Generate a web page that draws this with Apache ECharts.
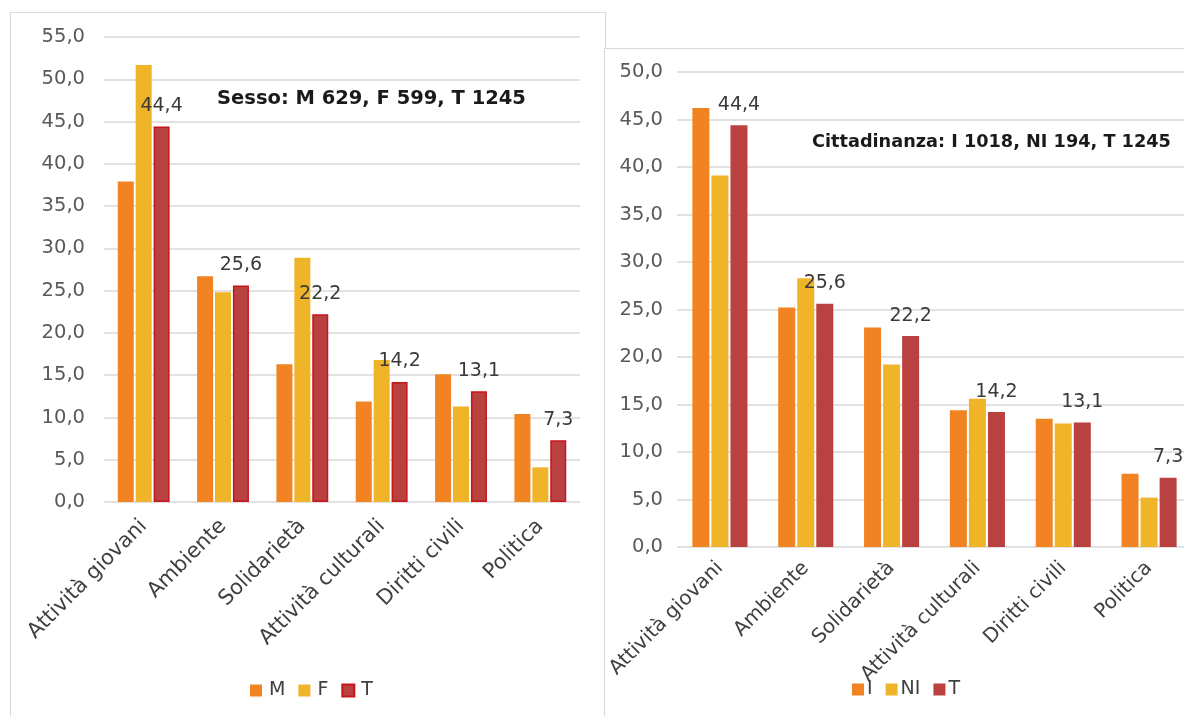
<!DOCTYPE html>
<html><head><meta charset="utf-8">
<script src="https://cdn.jsdelivr.net/npm/echarts@6/dist/echarts.min.js"></script>
<style>
html,body{margin:0;padding:0;width:1184px;height:716px;overflow:hidden;background:#fff;}
#c1{position:absolute;left:10px;top:12px;width:594px;height:720px;border:1px solid #d9d9d9;background:#fff;}
#c2{position:absolute;left:604px;top:48px;width:600px;height:690px;border:1px solid #d9d9d9;background:#fff;}
</style></head>
<body>
<div id="c1"></div>
<div id="c2"></div>
<script>
const categories = ['Attività giovani','Ambiente','Solidarietà','Attività culturali','Diritti civili','Politica'];
// Sesso
const sessoM = [37.9, 26.7, 16.3, 11.9, 15.1, 10.4];
const sessoF = [51.7, 24.8, 28.9, 16.8, 11.3, 4.1];
const sessoT = [44.4, 25.6, 22.2, 14.2, 13.1, 7.3];
// Cittadinanza
const cittI = [46.2, 25.2, 23.1, 14.4, 13.5, 7.7];
const cittNI = [39.1, 28.3, 19.2, 15.6, 13.0, 5.2];
const cittT = [44.4, 25.6, 22.2, 14.2, 13.1, 7.3];
const titleSesso = 'Sesso: M 629, F 599, T 1245';
const titleCitt = 'Cittadinanza: I 1018, NI 194, T 1245';

const FONT = 'DejaVu Sans';
const ORANGE = '#F28322', YELLOW = '#F0B429', RED = '#B94140';
const fmt = v => Number(v).toFixed(1).replace('.', ',');

function build(cfg){
  const mk = (name, data, color, isT) => ({
    name, type:'bar', data,
    barWidth: cfg.barWidth, barGap: cfg.barGap,
    itemStyle: Object.assign({color}, isT && cfg.tBorder ? {borderColor:'#C8141C', borderWidth:1.5} : {}),
    label: isT ? {show:true, position:'top', distance:11, formatter: p => fmt(p.value),
      fontFamily:FONT, fontSize:19, color:'#3a3a3a'} : {show:false},
    animation:false
  });
  return {
    animation:false,
    title:{text:cfg.title, left:cfg.titleLeft, top:cfg.titleTop, padding:0,
      textStyle:{fontFamily:FONT, fontWeight:'bold', fontSize:cfg.titleSize, color:'#1a1a1a'}},
    legend:{left:cfg.legendLeft, top:cfg.legendTop, padding:0, itemWidth:12, itemHeight:12, itemGap:cfg.legendGap,
      icon:'rect', data:cfg.names,
      textStyle:{fontFamily:FONT, fontSize:19, color:'#404040', padding:[0,0,0,cfg.legendPad]}},
    grid:{left:cfg.gridLeft, top:cfg.gridTop, width:cfg.gridWidth, height:cfg.gridHeight,
      containLabel:false, outerBoundsMode:'none'},
    xAxis:{type:'category', data:categories,
      axisLine:{show:false}, axisTick:{show:false},
      axisLabel:{interval:0, rotate:45, margin:cfg.xMargin, fontFamily:FONT, fontSize:cfg.xFont, color:'#404040'}},
    yAxis:{type:'value', min:0, max:cfg.max, interval:5,
      axisLine:{show:false}, axisTick:{show:false},
      splitLine:{lineStyle:{color:'#d9d9d9', width:1.5}},
      axisLabel:{formatter: v => fmt(v), margin:cfg.yMargin, fontFamily:FONT, fontSize:19.5, color:'#595959'}},
    series:[
      mk(cfg.names[0], cfg.s[0], ORANGE, false),
      mk(cfg.names[1], cfg.s[1], YELLOW, false),
      mk(cfg.names[2], cfg.s[2], RED, true)
    ]
  };
}

const ch1 = echarts.init(document.getElementById('c1'), null, {renderer:'canvas'});
ch1.setOption(build({
  title:titleSesso, titleLeft:206, titleTop:76, titleSize:19.5,
  legendLeft:239, legendTop:668, legendGap:13, legendPad:2, names:['M','F','T'], s:[sessoM, sessoF, sessoT],
  gridLeft:93, gridTop:24, gridWidth:476, gridHeight:465, max:55, yMargin:19,
  barWidth:16, barGap:'12%', tBorder:true, xFont:21, xMargin:21
}));
const ch2 = echarts.init(document.getElementById('c2'), null, {renderer:'canvas'});
ch2.setOption(build({
  title:titleCitt, titleLeft:207, titleTop:84, titleSize:17.7,
  legendLeft:247, legendTop:631, legendGap:13, legendPad:-2, names:['I','NI','T'], s:[cittI, cittNI, cittT],
  gridLeft:72, gridTop:23, gridWidth:515, gridHeight:475, max:50, yMargin:14,
  barWidth:17, barGap:'12%', tBorder:false, xFont:20, xMargin:18
}));
</script>
</body></html>
